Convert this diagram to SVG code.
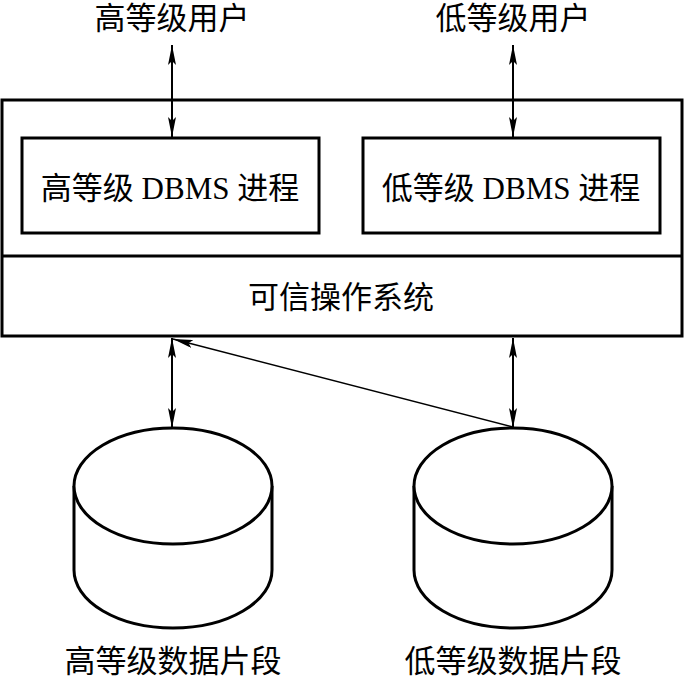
<svg xmlns="http://www.w3.org/2000/svg" width="684" height="677" viewBox="0 0 684 677">
<style>
.t{font-family:"Liberation Serif","Noto Sans CJK SC",serif;font-size:31px;fill:#000;text-anchor:middle;dominant-baseline:central}
.box{fill:none;stroke:#000;stroke-width:3}
.cyl{fill:#fff;stroke:#000;stroke-width:3}
.ln{fill:none;stroke:#000;stroke-width:2}
.thin{fill:none;stroke:#000;stroke-width:1.6}
</style>
<defs>
<marker id="ah" viewBox="0 0 20 8" refX="20" refY="4" markerWidth="20" markerHeight="8" markerUnits="userSpaceOnUse" orient="auto-start-reverse">
<path d="M0,0 L20,4 L0,8 L4,4 Z" fill="#000"/>
</marker>
</defs>
<g id="user-high"><text class="t" x="172" y="18">高等级用户</text></g>
<g id="user-low"><text class="t" x="513" y="18">低等级用户</text></g>
<g id="system">
<rect class="box" x="2" y="100" width="680" height="236"/>
<line class="box" x1="2" y1="256" x2="682" y2="256"/>
<text class="t" x="341" y="297">可信操作系统</text>
</g>
<g id="dbms-high">
<rect class="box" x="22" y="138" width="297" height="95"/>
<text class="t" x="170" y="188">高等级 DBMS 进程</text>
</g>
<g id="dbms-low">
<rect class="box" x="363" y="138" width="297" height="95"/>
<text class="t" x="511" y="188">低等级 DBMS 进程</text>
</g>
<g id="data-high">
<path class="cyl" d="M74,486 L74,570 A99,58 0 0 0 272,570 L272,486"/>
<ellipse class="cyl" cx="173" cy="486" rx="99" ry="58"/>
<text class="t" x="173" y="661">高等级数据片段</text>
</g>
<g id="data-low">
<path class="cyl" d="M414,486 L414,570 A99,58 0 0 0 612,570 L612,486"/>
<ellipse class="cyl" cx="513" cy="486" rx="99" ry="58"/>
<text class="t" x="513" y="661">低等级数据片段</text>
</g>
<g id="connectors">
<line class="ln" x1="172" y1="45" x2="172" y2="137" marker-start="url(#ah)" marker-end="url(#ah)"/>
<line class="ln" x1="513" y1="45" x2="513" y2="137" marker-start="url(#ah)" marker-end="url(#ah)"/>
<line class="ln" x1="172" y1="338" x2="172" y2="428" marker-start="url(#ah)" marker-end="url(#ah)"/>
<line class="ln" x1="513" y1="338" x2="513" y2="428" marker-start="url(#ah)" marker-end="url(#ah)"/>
<line class="thin" x1="513" y1="427" x2="173" y2="339" marker-end="url(#ah)"/>
</g>
</svg>
